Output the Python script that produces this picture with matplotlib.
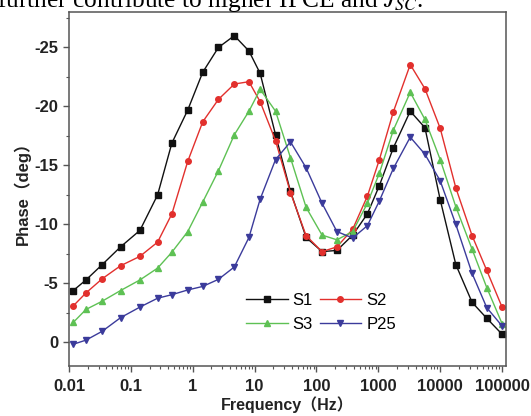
import numpy as np
import matplotlib
matplotlib.use("Agg")
import matplotlib.pyplot as plt
from matplotlib.ticker import FixedLocator, NullFormatter

plt.rcParams['axes.unicode_minus'] = False
plt.rcParams['font.family'] = ['Liberation Sans', 'Noto Sans CJK SC', 'DejaVu Sans']
plt.rcParams['mathtext.fontset'] = 'stix'

# frequency points (Hz), shared by all samples
freq = [0.0117, 0.0188, 0.0344, 0.068, 0.14, 0.27, 0.46, 0.83, 1.45, 2.6,
        4.7, 8.1, 12.3, 21.8, 38, 68, 123, 214, 385, 665,
        1040, 1750, 3280, 5670, 10000, 17900, 32800, 56600, 100000]

# phase (deg)
s1 = [-4.4, -5.3, -6.6, -8.1, -9.5, -12.5, -16.9, -19.7, -22.9, -25.0,
      -26.0, -24.7, -22.8, -17.6, -12.8, -8.9, -7.7, -7.8, -9.1, -10.9,
      -13.3, -16.5, -19.6, -18.2, -12.1, -6.6, -3.4, -2.05, -0.7]
s2 = [-3.1, -4.2, -5.4, -6.5, -7.3, -8.5, -10.9, -15.35, -18.7, -20.6,
      -21.9, -22.1, -20.4, -17.1, -12.7, -9.05, -7.7, -8.1, -9.6, -12.4,
      -15.5, -19.55, -23.55, -21.5, -18.15, -13.1, -9.05, -6.1, -3.0]
s3 = [-1.7, -2.8, -3.5, -4.4, -5.3, -6.3, -7.65, -9.4, -11.9, -14.55,
      -17.6, -19.6, -21.45, -19.6, -15.65, -11.45, -9.1, -8.7, -9.4, -11.8,
      -14.35, -18.0, -21.2, -18.9, -15.5, -11.5, -7.9, -4.65, -1.6]
p25 = [0.15, -0.2, -0.95, -2.1, -3.0, -3.75, -4.05, -4.45, -4.75, -5.35,
       -6.4, -8.9, -12.15, -15.5, -17.0, -14.8, -11.8, -9.4, -8.85, -9.9,
       -12.0, -14.75, -17.4, -15.95, -13.7, -10.0, -5.85, -2.95, -1.4]

labels = ['S1', 'S2', 'S3', 'P25']
colors = ['#111111', '#e2302d', '#5ec154', '#3b3b9b']
markers = ['s', 'o', '^', 'v']

xticks = [0.01, 0.1, 1, 10, 100, 1000, 10000, 100000]
xticklabels = ['0.01', '0.1', '1', '10', '100', '1000', '10000', '100000']
yticks = [0, -5, -10, -15, -20, -25]

fig = plt.figure(figsize=(5.31, 4.16), dpi=100)
ax = fig.add_axes([0.130, 0.120, 0.823, 0.851])

lines = {}
for ys, lab, c, m in zip([s1, s2, s3, p25], labels, colors, markers):
    lines[lab], = ax.plot(freq, ys, color=c, marker=m, markersize=4.0,
                          linewidth=1.0, label=lab)

ax.set_xscale('log')
ax.set_xlim(0.01, 1.16e5)
ax.set_ylim(2, -28)

ax.set_xticks(xticks)
ax.set_xticklabels(xticklabels)
minor = [m * 10.0 ** e for e in range(-2, 5) for m in range(2, 10)]
ax.xaxis.set_minor_locator(FixedLocator(minor))
ax.xaxis.set_minor_formatter(NullFormatter())
ax.set_yticks(yticks)
ax.set_yticklabels([str(v) for v in yticks])
ax.yaxis.set_minor_locator(FixedLocator([-2.5, -7.5, -12.5, -17.5, -22.5, -27.5]))

spine_c = '#555555'
for sp in ax.spines.values():
    sp.set_color(spine_c)
    sp.set_linewidth(1.1)
ax.tick_params(which='both', direction='out', colors=spine_c, top=False, right=False)
ax.tick_params(which='major', length=4, width=1.0, labelsize=12, labelcolor='#222222')
ax.tick_params(which='minor', length=2.2, width=0.8)
ax.tick_params(axis='x', which='major', pad=5)
for t in ax.get_xticklabels() + ax.get_yticklabels():
    t.set_fontweight('bold')

ax.set_xlabel('Frequency（Hz）', fontsize=11.5, fontweight='bold', color='#222222', labelpad=2)
ax.set_ylabel('Phase（deg）', fontsize=12, fontweight='bold', color='#222222', labelpad=3)

# row order S1 S2 / S3 P25
order = ['S1', 'S3', 'S2', 'P25']
ax.legend([lines[k] for k in order], order, ncol=2, loc='center left',
          bbox_to_anchor=(0.405, 0.151), frameon=False,
          fontsize=12, handlelength=2.5, handletextpad=0.3, columnspacing=0.4,
          labelspacing=0.55, borderpad=0, borderaxespad=0)

# caption line from the page above the figure, cut off at the top
cap = fig.text(-0.005, 1 - 7 / 416, 'further contribute to higher IPCE and $J_{SC}$.',
               family=['Liberation Serif', 'DejaVu Serif'], fontsize=16,
               va='baseline', ha='left')
# size it so it runs to about x=425 px like the page text
r = fig.canvas.get_renderer()
w = cap.get_window_extent(r).width
cap.set_fontsize(16 * 428 / w)

fig.savefig('out.png', dpi=100)
